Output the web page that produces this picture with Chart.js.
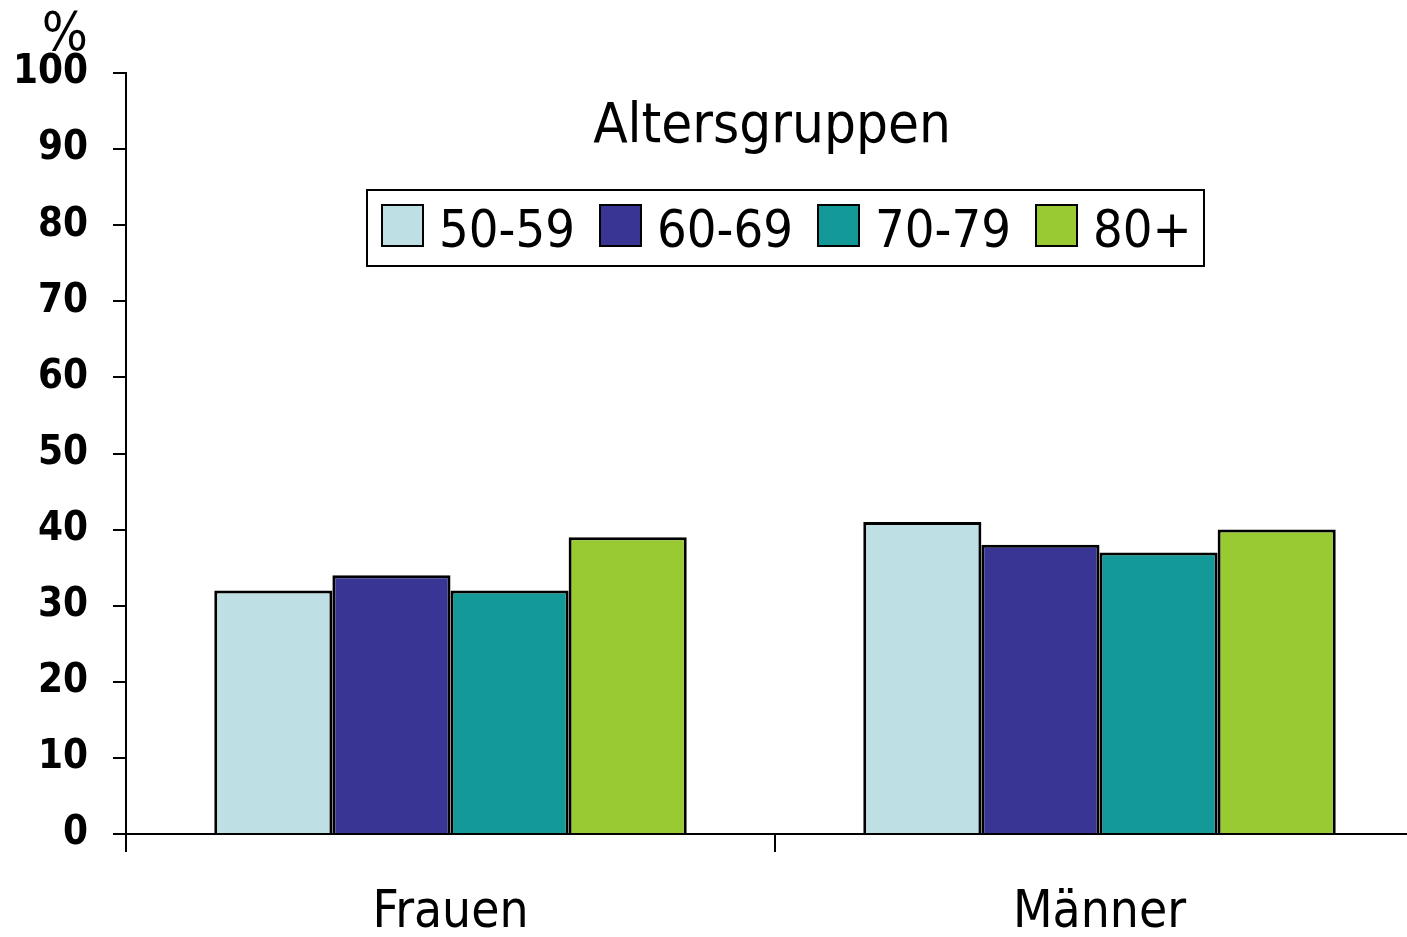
<!DOCTYPE html>
<html lang="de">
<head>
<meta charset="utf-8">
<title>Altersgruppen</title>
<script src="https://cdn.jsdelivr.net/npm/chart.js@4/dist/chart.umd.min.js"></script>
<style>
  html, body { margin: 0; padding: 0; background: #fff; overflow: hidden; }
  #grafico { display: block; }
</style>
</head>
<body>
<canvas id="grafico" width="1424" height="937"></canvas>
<script>
// dados do grafico
const kategorien = ['Frauen', 'Männer'];
const altersgruppen = ['50-59', '60-69', '70-79', '80+'];
const werte5059 = [32, 41];
const werte6069 = [34, 38];
const werte7079 = [32, 37];
const werte80 = [39, 40];
const yTicks = [0, 10, 20, 30, 40, 50, 60, 70, 80, 90, 100];
const titel = 'Altersgruppen';
const einheit = '%';

const farben = ['#bee0e4', '#383595', '#149999', '#9aca32'];
const schrift = '"DejaVu Sans Condensed", "DejaVu Sans", sans-serif';

let alleWerte = [werte5059, werte6069, werte7079, werte80];

let datasets = [];
for (let i = 0; i < altersgruppen.length; i++) {
  datasets.push({
    label: altersgruppen[i],
    data: alleWerte[i],
    backgroundColor: farben[i],
    borderColor: '#000',
    borderWidth: 3,
    barPercentage: 1,
    categoryPercentage: 0.728
  });
}

// legenda e titulo desenhados dentro da area do grafico
const legendaPlugin = {
  id: 'legendaInterna',
  afterDraw(chart) {
    const ctx = chart.ctx;
    ctx.save();

    // % acima do eixo y
    ctx.fillStyle = '#000';
    ctx.font = '54px ' + schrift;
    ctx.textAlign = 'right';
    ctx.textBaseline = 'alphabetic';
    ctx.fillText(einheit, 88, 50);

    // titulo
    ctx.font = '56px ' + schrift;
    ctx.textAlign = 'center';
    ctx.fillText(titel, 772, 142);

    // caixa da legenda
    ctx.lineWidth = 2;
    ctx.strokeStyle = '#000';
    ctx.strokeRect(367, 190, 837, 76);

    ctx.font = '52px ' + schrift;
    ctx.textAlign = 'left';
    let x = 382;
    chart.data.datasets.forEach(function (ds) {
      ctx.fillStyle = ds.backgroundColor;
      ctx.fillRect(x, 205, 41, 41);
      ctx.strokeRect(x, 205, 41, 41);
      ctx.fillStyle = '#000';
      ctx.fillText(ds.label, x + 57, 247);
      x += 218;
    });

    ctx.restore();
  }
};

const config = {
  type: 'bar',
  data: { labels: kategorien, datasets: datasets },
  options: {
    responsive: false,
    animation: false,
    layout: { padding: { top: 73, left: 0, right: 0, bottom: 0 } },
    plugins: {
      legend: { display: false },
      title: { display: false },
      tooltip: { enabled: false }
    },
    scales: {
      x: {
        offset: true,
        grid: {
          offset: true,
          drawOnChartArea: false,
          drawTicks: true,
          tickLength: 18,
          color: '#000',
          lineWidth: 2
        },
        border: { display: true, color: '#000', width: 2 },
        ticks: {
          color: '#000',
          padding: 31,
          font: { family: schrift, size: 51 }
        },
        afterFit: function (scale) { scale.height = 103; }
      },
      y: {
        min: 0,
        max: 100,
        afterBuildTicks: function (scale) {
          scale.ticks = yTicks.map(function (v) { return { value: v }; });
        },
        grid: {
          drawOnChartArea: false,
          drawTicks: true,
          tickLength: 13,
          color: '#000',
          lineWidth: 2
        },
        border: { display: true, color: '#000', width: 2 },
        ticks: {
          color: '#000',
          padding: 25,
          font: { family: schrift, size: 40, weight: 'bold' }
        },
        afterFit: function (scale) { scale.width = 126; }
      }
    }
  },
  plugins: [legendaPlugin]
};

let myChart = new Chart(document.getElementById('grafico'), config);
</script>
</body>
</html>
